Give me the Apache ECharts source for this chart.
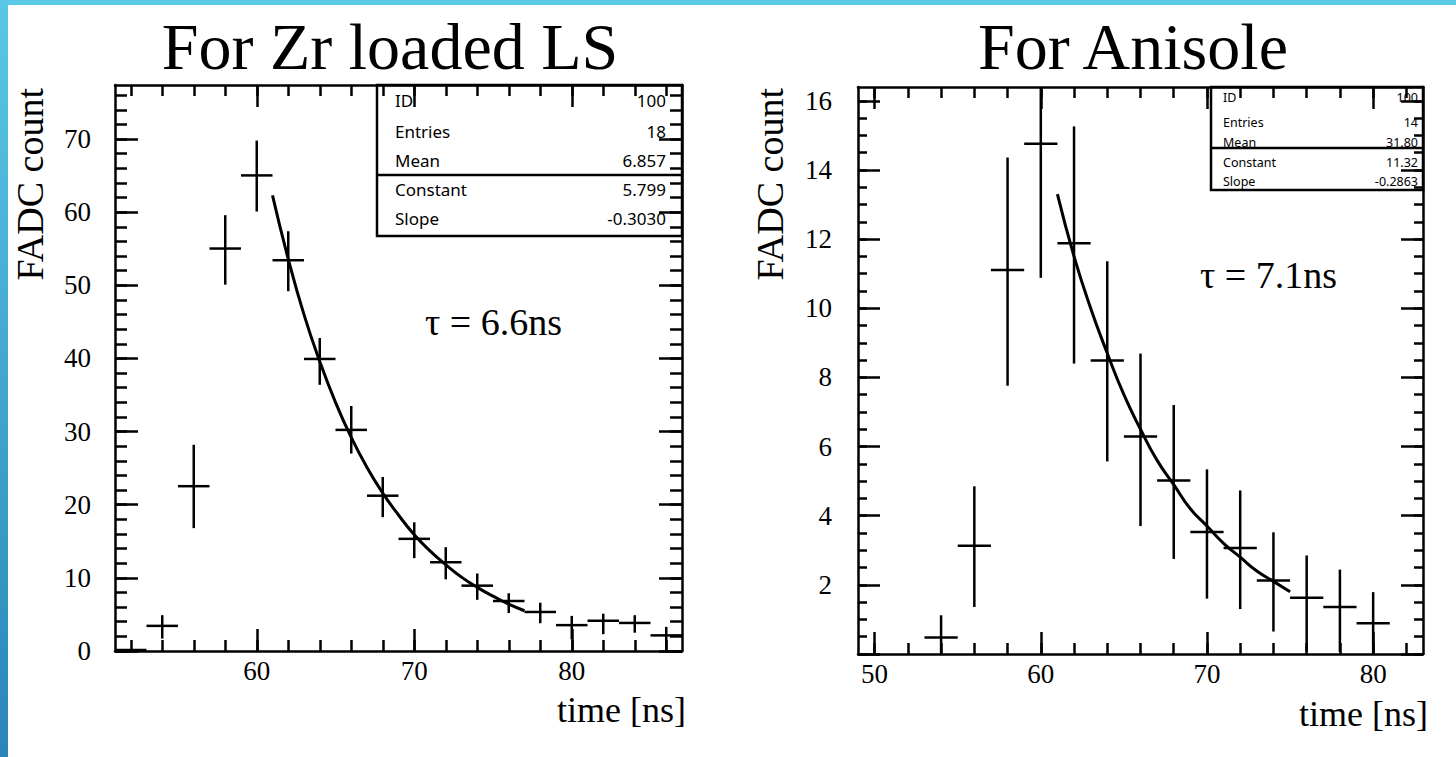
<!DOCTYPE html>
<html><head><meta charset="utf-8">
<script src="https://cdn.jsdelivr.net/npm/echarts@6/dist/echarts.min.js"></script>
<style>html,body{margin:0;padding:0;background:#fff}#c{width:1456px;height:757px}</style>
</head><body><div id="c"></div><script>
// ---------- data: Zr loaded LS ----------
const zrTime  = [52,54,56,58,60,62,64,66,68,70,72,74,76,78,80,82,84,86];
const zrCount = [0,3.3,22.4,54.9,64.9,53.3,39.8,30.1,21.1,15.2,12.0,8.8,6.7,5.2,3.4,4.0,3.7,2.0];
const zrLow   = [0,1.7,16.8,50.1,60.1,49.2,36.4,27.0,18.3,12.7,9.8,7.0,5.2,3.8,1.6,2.3,2.5,0.1];
const zrHigh  = [0,4.9,28.2,59.6,69.8,57.4,42.8,33.5,23.8,17.6,14.2,10.6,7.9,6.6,4.8,5.1,4.9,3.3];
const zrFitTime  = [61,62,63,64,65,66,67,68,69,70,71,72,73,74,75,76,77];
const zrFitCount = [62.3,53.6,46.0,39.6,34.0,29.2,25.1,21.6,18.6,15.9,13.7,11.8,10.1,8.7,7.5,6.4,5.5];
const zrXLabels = [60,70,80];
const zrXMinor  = [52,54,56,58,60,62,64,66,68,70,72,74,76,78,80,82,84,86];
const zrYLabels = [0,10,20,30,40,50,60,70];
const zrYMinor  = [0,2,4,6,8,10,12,14,16,18,20,22,24,26,28,30,32,34,36,38,40,42,44,46,48,50,52,54,56,58,60,62,64,66,68,70,72,74,76];
const zrStatNames  = ['ID','Entries','Mean','Constant','Slope'];
const zrStatValues = ['100','18','6.857','5.799','-0.3030'];

// ---------- data: Anisole ----------
const anTime  = [54,56,58,60,62,64,66,68,70,72,74,76,78,80];
const anCount = [0.45,3.1,11.08,14.73,11.85,8.46,6.26,4.99,3.5,3.04,2.1,1.6,1.33,0.86];
const anLow   = [0,1.36,7.76,10.88,8.4,5.57,3.7,2.75,1.6,1.3,0.65,0.07,0.06,0];
const anHigh  = [1.12,4.85,14.36,18.6,15.26,11.36,8.69,7.2,5.34,4.73,3.52,2.85,2.44,1.79];
const anFitTime  = [61,62,63,64,65,66,67,68,69,70,71,72,73,74,75];
const anFitCount = [13.3,11.5,10.0,8.7,7.5,6.5,5.6,4.9,4.2,3.7,3.2,2.8,2.4,2.1,1.8];
const anXLabels = [50,60,70,80];
const anXMinor  = [50,52,54,56,58,60,62,64,66,68,70,72,74,76,78,80,82];
const anYLabels = [2,4,6,8,10,12,14,16];
const anYMajor  = [0,2,4,6,8,10,12,14,16];
const anYMinor  = [0,0.5,1,1.5,2,2.5,3,3.5,4,4.5,5,5.5,6,6.5,7,7.5,8,8.5,9,9.5,10,10.5,11,11.5,12,12.5,13,13.5,14,14.5,15,15.5,16];
const anStatNames  = ['ID','Entries','Mean','Constant','Slope'];
const anStatValues = ['100','14','31.80','11.32','-0.2863'];

const BIN_HALF = 1;
const SERIF = 'Liberation Serif';
const SANS = 'Noto Sans';

function axes(dim, gridIndex, min, max, majorVals, minorVals, labelVals, majLen, minLen, margin) {
  const posA = dim === 'x' ? 'bottom' : 'left';
  const posB = dim === 'x' ? 'top' : 'right';
  const mk = (pos, vals, len, line, labels) => ({
    type: 'value', gridIndex, position: pos, min, max, z: 6,
    axisLine: {show: line, onZero: false, lineStyle: {color: '#000', width: 2.5}},
    axisTick: {show: true, inside: true, length: len, customValues: vals, lineStyle: {color: '#000', width: 2.5}},
    axisLabel: labels ? {show: true, customValues: labelVals, margin, color: '#000', fontFamily: SERIF, fontSize: 27, hideOverlap: false} : {show: false},
    splitLine: {show: false}, minorTick: {show: false}
  });
  return [mk(posA, majorVals, majLen, true, true), mk(posA, minorVals, minLen, false, false),
          mk(posB, majorVals, majLen, true, false), mk(posB, minorVals, minLen, false, false)];
}

function crossRender(params, api) {
  const x = api.value(0), y = api.value(1), lo = api.value(2), hi = api.value(3);
  const cs = params.coordSys;
  const clampX = v => Math.max(cs.x, Math.min(cs.x + cs.width, v));
  const clampY = v => Math.max(cs.y, Math.min(cs.y + cs.height, v));
  const l = api.coord([x - BIN_HALF, y]), r = api.coord([x + BIN_HALF, y]);
  const t = api.coord([x, hi]), b = api.coord([x, lo]);
  const st = {stroke: '#000', lineWidth: 2.5};
  return {type: 'group', children: [
    {type: 'line', shape: {x1: clampX(l[0]), y1: clampY(l[1]) - 1, x2: clampX(r[0]), y2: clampY(r[1]) - 1}, style: st},
    {type: 'line', shape: {x1: t[0], y1: clampY(t[1]), x2: b[0], y2: clampY(b[1])}, style: st}
  ]};
}

function statBox(x, y, w, h, sepY, rowsY, names, values, valRight, fs) {
  const children = [
    {type: 'rect', shape: {x, y, width: w, height: h}, style: {fill: '#fff', stroke: '#000', lineWidth: 2.5}, z: 1},
    {type: 'line', shape: {x1: x, y1: sepY, x2: x + w, y2: sepY}, style: {stroke: '#000', lineWidth: 2.5}, z: 1}
  ];
  names.forEach((n, i) => {
    children.push({type: 'text', x: x + (fs > 15 ? 18 : 12), y: rowsY[i], z: 1,
      style: {text: n, fill: '#000', font: fs + 'px "' + SANS + '"', align: 'left', verticalAlign: 'middle'}});
    children.push({type: 'text', x: valRight, y: rowsY[i], z: 1,
      style: {text: values[i], fill: '#000', font: fs + 'px "' + SANS + '"', align: 'right', verticalAlign: 'middle'}});
  });
  return children;
}

const chart = echarts.init(document.getElementById('c'), null, {renderer: 'svg'});
const txt = (text, x, y, size, align, extra) => Object.assign({type: 'text', x, y, z: 10,
  style: {text, fill: '#000', font: size + 'px "' + SERIF + '"', align, verticalAlign: 'middle'}}, extra || {});

chart.setOption({
  animation: false,
  backgroundColor: '#fff',
  title: [
    {text: 'For Zr loaded LS', left: 390, top: 13, textAlign: 'center', padding: 0,
     textStyle: {fontFamily: SERIF, fontSize: 66, fontWeight: 'normal', color: '#000'}},
    {text: 'For Anisole', left: 1133, top: 13, textAlign: 'center', padding: 0,
     textStyle: {fontFamily: SERIF, fontSize: 66, fontWeight: 'normal', color: '#000'}}
  ],
  grid: [
    {left: 115, top: 85, width: 567, height: 566},
    {left: 858, top: 87, width: 565, height: 567}
  ],
  xAxis: [
    ...axes('x', 0, 51, 87, zrXLabels, zrXMinor, zrXLabels, 22, 11, 6),
    ...axes('x', 1, 49, 83, anXLabels, anXMinor, anXLabels, 22, 11, 6)
  ],
  yAxis: [
    ...axes('y', 0, 0, 77.4, zrYLabels, zrYMinor, zrYLabels, 23, 12, 24),
    ...axes('y', 1, 0, 16.4, anYMajor, anYMinor, anYLabels, 22, 9, 26)
  ],
  series: [
    {type: 'custom', xAxisIndex: 0, yAxisIndex: 0, renderItem: crossRender, z: 3,
     data: zrTime.map((t, i) => [t, zrCount[i], zrLow[i], zrHigh[i]])},
    {type: 'line', xAxisIndex: 0, yAxisIndex: 0, smooth: true, showSymbol: false, z: 4,
     lineStyle: {color: '#000', width: 3}, data: zrFitTime.map((t, i) => [t, zrFitCount[i]])},
    {type: 'custom', xAxisIndex: 4, yAxisIndex: 4, renderItem: crossRender, z: 3,
     data: anTime.map((t, i) => [t, anCount[i], anLow[i], anHigh[i]])},
    {type: 'line', xAxisIndex: 4, yAxisIndex: 4, smooth: true, showSymbol: false, z: 4,
     lineStyle: {color: '#000', width: 3}, data: anFitTime.map((t, i) => [t, anFitCount[i]])}
  ],
  graphic: [
    {type: 'rect', shape: {x: 0, y: 0, width: 1456, height: 5}, style: {fill: '#5cc9e7'}, z: 20},
    {type: 'rect', shape: {x: 0, y: 0, width: 8, height: 757}, z: 20,
     style: {fill: new echarts.graphic.LinearGradient(0, 0, 0, 1, [{offset: 0, color: '#5ac7e6'}, {offset: 1, color: '#2a86b8'}])}},
    ...statBox(377, 85, 305, 151, 175, [100, 131, 160, 189, 218], zrStatNames, zrStatValues, 666, 17),
    ...statBox(1211, 87, 212, 103, 148, [97, 122, 142, 162, 181], anStatNames, anStatValues, 1418, 12.5),
    txt('FADC count', 30, 88, 38, 'right', {rotation: Math.PI / 2}),
    txt('FADC count', 770, 88, 38, 'right', {rotation: Math.PI / 2}),
    txt('time [ns]', 686, 710, 36, 'right'),
    txt('time [ns]', 1428, 714, 36, 'right'),
    txt('τ = 6.6ns', 425, 322, 38, 'left'),
    txt('τ = 7.1ns', 1200, 275, 38, 'left')
  ]
});
</script></body></html>
